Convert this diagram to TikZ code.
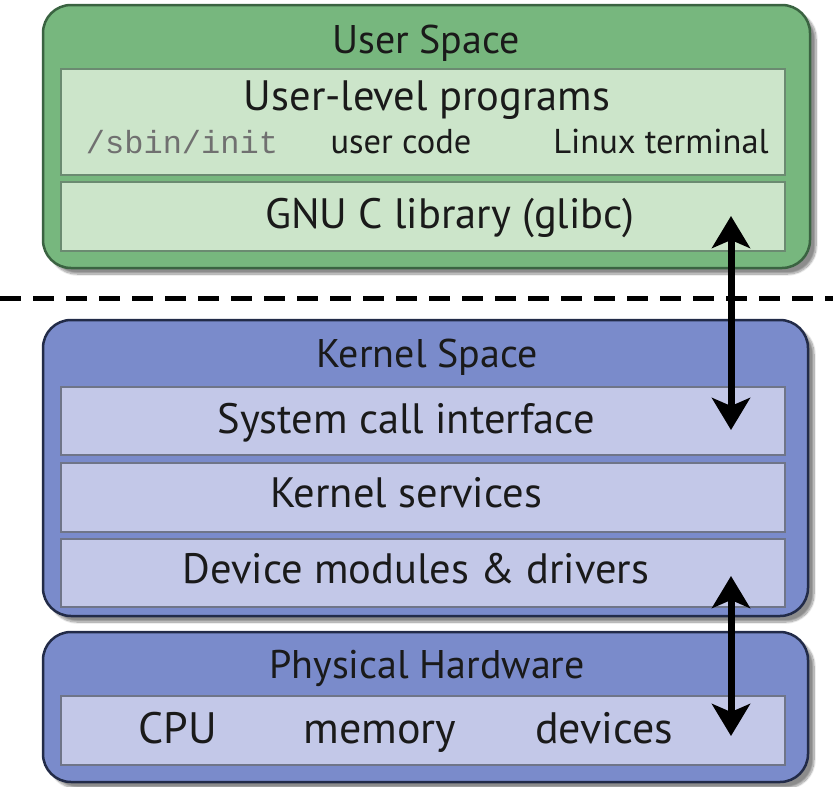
\documentclass[tikz,border=0pt]{standalone}
\usepackage{fontspec}
\setmainfont{PT Sans}
\newfontfamily\codefont{Liberation Mono}
\usetikzlibrary{arrows.meta,shadows.blur}

\definecolor{userouter}{HTML}{77B77E}
\definecolor{userinner}{HTML}{CCE5CA}
\definecolor{userline}{HTML}{3A6341}
\definecolor{kernouter}{HTML}{7A8BCB}
\definecolor{kerninner}{HTML}{C3C8E8}
\definecolor{kernline}{HTML}{222B48}
\definecolor{codegray}{HTML}{707070}
\definecolor{inktext}{HTML}{1A1A1A}

\tikzset{
  layer/.style={rounded corners=28pt, line width=2.5pt, minimum width=766pt,
    blur shadow={shadow xshift=6pt, shadow yshift=-6pt, shadow blur steps=14,
      shadow opacity=45}},
  userlayer/.style={layer, fill=userouter, draw=userline},
  kernlayer/.style={layer, fill=kernouter, draw=kernline},
  slab/.style={minimum width=724pt, line width=1.5pt},
  userslab/.style={slab, fill=userinner, draw=userline!75},
  kernslab/.style={slab, fill=kerninner, draw=kernline!65},
  txt/.style={anchor=base, inner sep=0pt, text=inktext},
  title/.style={txt, font=\fontsize{40}{40}\selectfont},
  label/.style={txt, font=\fontsize{42.5}{42.5}\selectfont},
  small/.style={txt, font=\fontsize{34.5}{34.5}\selectfont},
  hwlabel/.style={txt, font=\fontsize{44}{44}\selectfont},
  code/.style={txt, font=\codefont\fontsize{32}{32}\selectfont, text=codegray},
  tip/.style={Stealth[length=32pt,width=38pt,inset=8pt]},
  sysarrow/.style={line width=7pt, {Stealth[length=32pt,width=38pt,inset=8pt]}-{Stealth[length=32pt,width=38pt,inset=8pt]}},
}

\begin{document}
\begin{tikzpicture}[x=1pt, y=-1pt]
  \useasboundingbox (0,0) rectangle (833,787);

  % User space
  \node[userlayer, minimum width=767pt, minimum height=263pt] (user) at (426.5,136.5) {};
  \node[userslab, minimum height=106pt] (progs) at (423,122) {};
  \node[userslab, minimum height=69pt] (glibc) at (423,216.5) {};
  \node[title] (usertitle) at (426,53) {User Space};
  \node[label] (progstext) at (427,110) {User-level programs};
  \node[code] (init) at (182,153) {/sbin/init};
  \node[small] (ucode) at (401,153) {user code};
  \node[small] (term) at (661,153) {Linux terminal};
  \node[label] (glibctext) at (450,228) {GNU C library (glibc)};

  % Boundary between user and kernel space
  \coordinate (dl) at (0,298);
  \coordinate (dr) at (833,298);
  \draw[line width=5pt, dash pattern=on 21pt off 12pt] (dl) -- (dr);

  % Kernel space
  \node[kernlayer, minimum width=765pt, minimum height=296pt] (kernel) at (425.5,468) {};
  \node[kernslab, minimum height=68pt] (sci) at (423,421) {};
  \node[kernslab, minimum height=69pt] (ksvc) at (423,497.5) {};
  \node[kernslab, minimum height=68pt] (drv) at (423,573) {};
  \node[title] (kerntitle) at (427,367) {Kernel Space};
  \node[label] (scitext) at (406,433) {System call interface};
  \node[label] (ksvctext) at (406,507) {Kernel services};
  \node[label] (drvtext) at (416,583) {Device modules \& drivers};

  % Physical hardware
  \node[kernlayer, minimum width=765pt, minimum height=150pt] (hw) at (425.5,707) {};
  \node[kernslab, minimum height=69pt] (hwrow) at (423,730.5) {};
  \node[title] (hwtitle) at (427,678) {Physical Hardware};
  \node[hwlabel] (cpu) at (178,743) {CPU};
  \node[hwlabel] (mem) at (380,743) {memory};
  \node[hwlabel] (dev) at (604,743) {devices};

  % Calls crossing the layers
  \coordinate (glibcport) at (731,216);
  \coordinate (sciport) at (731,430);
  \coordinate (drvport) at (731,576);
  \coordinate (hwport) at (731,736);
  \draw[sysarrow] (glibcport) -- (sciport);
  \draw[sysarrow] (drvport) -- (hwport);
\end{tikzpicture}
\end{document}
